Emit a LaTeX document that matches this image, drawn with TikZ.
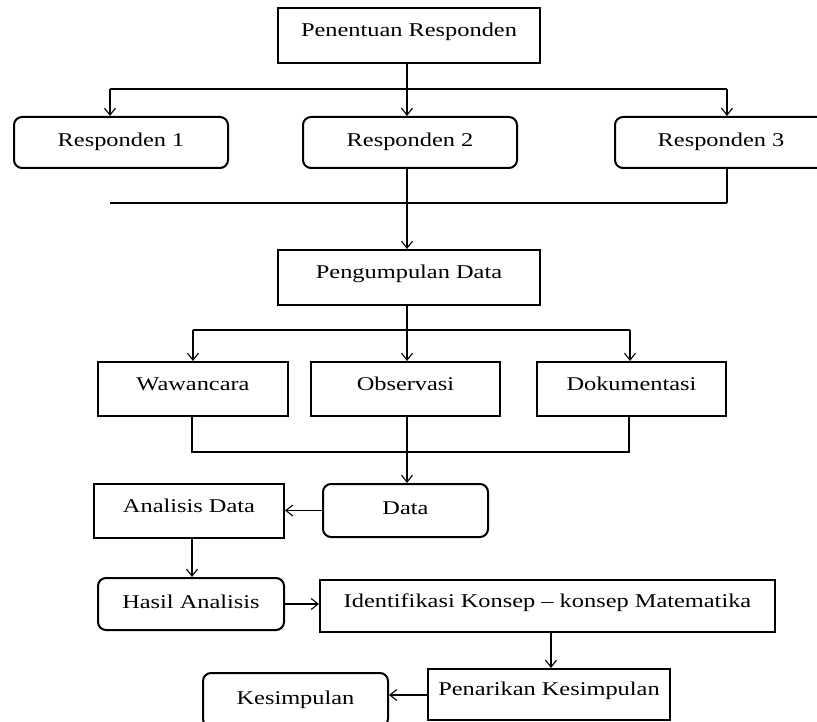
\documentclass[tikz,border=0pt]{standalone}
\usepackage{fontspec}
\setmainfont[FakeStretch=1.25]{Liberation Serif}
\usetikzlibrary{arrows.meta}
\begin{document}
\begin{tikzpicture}[x=1pt,y=-1pt,
  box/.style={draw,line width=2pt,inner sep=0pt,font=\fontsize{19.5}{21}\selectfont},
  sqbox/.style={box,text height=14pt,text depth=12pt},
  rbox/.style={box,rounded corners=8pt,text height=14pt,text depth=6pt},
  conn/.style={line width=1.3pt},
  arr/.style={conn,-{Straight Barb[length=7pt,width=11pt,line width=1.1pt]}}]
\useasboundingbox (0,0) rectangle (817,722);
\clip (0,0) rectangle (817,722);
\fill[white] (0,0) rectangle (817,722);
% nodes
\node[sqbox,minimum width=262pt,minimum height=55pt] (pen) at (409,35.5) {Penentuan Responden};
\node[rbox,minimum width=214pt,minimum height=51pt] (r1) at (121,142.5) {Responden 1};
\node[rbox,minimum width=214pt,minimum height=51pt] (r2) at (410,142.5) {Responden 2};
\node[rbox,minimum width=212pt,minimum height=51pt] (r3) at (721,142.5) {Responden 3};
\node[sqbox,minimum width=262pt,minimum height=55pt] (peng) at (409,277.5) {Pengumpulan Data};
\node[sqbox,minimum width=190pt,minimum height=54pt] (waw) at (193,389) {Wawancara};
\node[sqbox,minimum width=189pt,minimum height=54pt] (obs) at (405.5,389) {Observasi};
\node[sqbox,minimum width=189pt,minimum height=54pt] (dok) at (631.5,389) {Dokumentasi};
\node[sqbox,minimum width=190pt,minimum height=54pt] (ana) at (189,511) {Analisis Data};
\node[rbox,minimum width=165pt,minimum height=53pt] (data) at (405.5,510.5) {Data};
\node[rbox,minimum width=186pt,minimum height=52pt] (hasil) at (191,604) {Hasil Analisis};
\node[sqbox,minimum width=455pt,minimum height=52pt] (iden) at (547.5,606) {Identifikasi Konsep -- konsep Matematika};
\node[sqbox,minimum width=242pt,minimum height=51pt] (tarik) at (549,694.5) {Penarikan Kesimpulan};
\node[rbox,minimum width=185pt,minimum height=54pt] (kes) at (295.5,700) {Kesimpulan};
% coordinates
\coordinate (a1) at (110,89);
\coordinate (a3) at (727,89);
\coordinate (b1) at (110,203);
\coordinate (b3) at (727,203);
\coordinate (c1) at (193,330);
\coordinate (c3) at (630,330);
\coordinate (d1) at (192,452);
\coordinate (d3) at (629,452);
% level 1
\draw[conn] (a1) -- (a3);
\draw[arr] (pen.south -| 407,0) -- (r2.north -| 407,0);
\draw[arr] (a1) -- (a1 |- r1.north);
\draw[arr] (a3) -- (a3 |- r3.north);
% collector 2
\draw[conn] (b1) -- (b3);
\draw[conn] (r3.south -| b3) -- (b3);
\draw[arr] (r2.south -| 407,0) -- (peng.north -| 407,0);
% level 3
\draw[conn] (c1) -- (c3);
\draw[arr] (peng.south -| 407,0) -- (obs.north -| 407,0);
\draw[arr] (c1) -- (c1 |- waw.north);
\draw[arr] (c3) -- (c3 |- dok.north);
% collector 4
\draw[conn] (waw.south -| d1) -- (d1) -- (d3) -- (dok.south -| d3);
\draw[arr] (obs.south -| 407,0) -- (data.north -| 407,0);
% bottom
\draw[arr] (data.west) -- (ana.east |- data.west);
\draw[arr] (ana.south -| d1) -- (hasil.north -| d1);
\draw[arr] (hasil.east |- 0,604) -- (iden.west |- 0,604);
\draw[arr] (iden.south -| 551,0) -- (tarik.north -| 551,0);
\draw[arr] (tarik.west |- 0,695) -- (kes.east |- 0,695);
\end{tikzpicture}
\end{document}
